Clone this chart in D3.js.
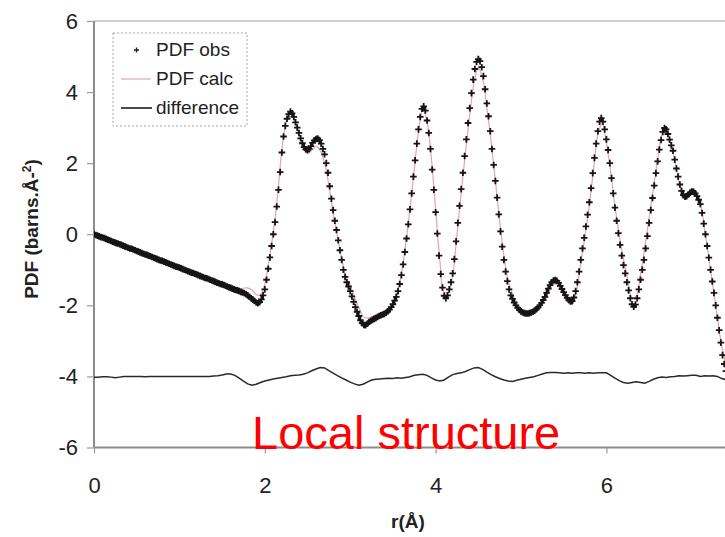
<!DOCTYPE html>
<html>
<head>
<meta charset="utf-8">
<script src="https://cdn.jsdelivr.net/npm/d3@7"></script>
<style>
  html, body { margin: 0; padding: 0; background: #fff; }
  svg { display: block; }
</style>
</head>
<body>
<script>
// Observed PDF, G(r), on a uniform r grid (0 to 7.40 Å, step 0.02 Å)
const obsStart = 0;
const obsStep = 0.02;
const pdfObs = [
  0.00,-0.02,-0.04,-0.06,-0.08,-0.09,-0.11,-0.13,-0.15,-0.17,
  -0.19,-0.21,-0.23,-0.25,-0.26,-0.28,-0.30,-0.32,-0.34,-0.36,
  -0.38,-0.40,-0.41,-0.43,-0.45,-0.47,-0.49,-0.51,-0.53,-0.55,
  -0.57,-0.58,-0.60,-0.62,-0.64,-0.66,-0.68,-0.70,-0.72,-0.74,
  -0.75,-0.77,-0.79,-0.81,-0.83,-0.85,-0.87,-0.89,-0.91,-0.92,
  -0.94,-0.96,-0.98,-1.00,-1.02,-1.04,-1.06,-1.08,-1.09,-1.11,
  -1.13,-1.15,-1.17,-1.19,-1.21,-1.23,-1.24,-1.26,-1.28,-1.30,
  -1.32,-1.34,-1.36,-1.38,-1.40,-1.41,-1.43,-1.45,-1.47,-1.49,
  -1.51,-1.53,-1.55,-1.57,-1.58,-1.60,-1.62,-1.64,-1.66,-1.69,
  -1.72,-1.76,-1.80,-1.84,-1.88,-1.92,-1.94,-1.91,-1.83,-1.72,
  -1.55,-1.28,-0.97,-0.65,-0.33,0.00,0.34,0.78,1.25,1.75,
  2.30,2.75,3.05,3.25,3.38,3.45,3.40,3.30,3.15,3.00,
  2.85,2.70,2.56,2.45,2.39,2.37,2.40,2.48,2.57,2.64,
  2.68,2.69,2.65,2.55,2.40,2.25,2.00,1.73,1.35,1.00,
  0.68,0.38,0.12,-0.17,-0.45,-0.72,-1.00,-1.20,-1.35,-1.47,
  -1.60,-1.75,-1.90,-2.05,-2.18,-2.30,-2.42,-2.50,-2.55,-2.56,
  -2.52,-2.47,-2.44,-2.41,-2.38,-2.36,-2.33,-2.30,-2.28,-2.26,
  -2.24,-2.21,-2.17,-2.12,-2.05,-1.97,-1.87,-1.76,-1.60,-1.40,
  -1.15,-0.85,-0.50,-0.12,0.28,0.70,1.15,1.62,2.08,2.55,
  2.95,3.30,3.53,3.60,3.48,3.20,2.85,2.40,1.82,1.25,
  0.62,0.02,-0.60,-1.12,-1.50,-1.73,-1.80,-1.72,-1.55,-1.35,
  -1.10,-0.70,-0.20,0.32,0.80,1.27,1.73,2.20,2.67,3.13,
  3.55,3.97,4.35,4.65,4.85,4.93,4.87,4.70,4.45,4.08,
  3.68,3.32,2.90,2.40,1.95,1.50,1.03,0.56,0.08,-0.35,
  -0.72,-1.05,-1.32,-1.55,-1.72,-1.82,-1.92,-2.00,-2.07,-2.13,
  -2.17,-2.20,-2.22,-2.23,-2.23,-2.22,-2.20,-2.18,-2.15,-2.11,
  -2.06,-2.00,-1.93,-1.85,-1.76,-1.65,-1.53,-1.43,-1.35,-1.30,
  -1.29,-1.31,-1.37,-1.45,-1.54,-1.63,-1.71,-1.79,-1.85,-1.89,
  -1.88,-1.78,-1.60,-1.35,-1.05,-0.72,-0.40,-0.10,0.22,0.55,
  0.90,1.30,1.72,2.15,2.55,2.90,3.17,3.27,3.17,2.95,
  2.67,2.37,2.00,1.58,1.15,0.75,0.38,0.03,-0.30,-0.60,
  -0.87,-1.10,-1.35,-1.58,-1.80,-1.97,-2.04,-1.98,-1.80,-1.55,
  -1.28,-1.00,-0.72,-0.40,-0.05,0.32,0.68,1.02,1.37,1.72,
  2.05,2.38,2.65,2.88,2.99,2.95,2.82,2.66,2.50,2.35,
  2.10,1.85,1.62,1.40,1.22,1.10,1.06,1.07,1.12,1.17,
  1.20,1.20,1.15,1.07,0.97,0.85,0.60,0.30,0.00,-0.33,
  -0.66,-1.00,-1.33,-1.65,-2.00,-2.35,-2.70,-3.05,-3.40,-3.65,
  -3.85
];

// Fitted PDF and the offset difference curve (0 to 7.40 Å, step 0.05 Å)
const fitStart = 0;
const fitStep = 0.05;
const pdfCalc = [
  0.00,-0.05,-0.09,-0.14,-0.19,-0.24,-0.28,-0.33,-0.38,-0.42,
  -0.47,-0.52,-0.57,-0.61,-0.66,-0.71,-0.75,-0.80,-0.85,-0.90,
  -0.94,-0.99,-1.04,-1.08,-1.13,-1.18,-1.23,-1.27,-1.32,-1.37,
  -1.45,-1.53,-1.58,-1.59,-1.55,-1.52,-1.51,-1.57,-1.70,-1.70,
  -1.42,-0.71,0.07,1.08,2.38,3.16,3.43,3.19,2.81,2.44,
  2.27,2.36,2.47,2.35,2.01,1.38,0.59,-0.05,-0.68,-1.18,
  -1.44,-1.77,-2.05,-2.31,-2.36,-2.33,-2.28,-2.22,-2.18,-2.10,
  -1.91,-1.63,-1.10,-0.28,0.71,1.82,2.90,3.51,3.17,2.15,
  0.72,-0.73,-1.63,-1.62,-1.15,-0.02,1.17,2.30,3.36,4.26,
  4.68,4.38,3.56,2.60,1.51,0.38,-0.62,-1.31,-1.68,-1.93,
  -2.09,-2.18,-2.19,-2.16,-2.09,-1.96,-1.75,-1.50,-1.40,-1.51,
  -1.73,-1.92,-1.98,-1.58,-0.82,-0.04,0.80,1.84,2.80,3.12,
  2.57,1.76,0.80,-0.02,-0.70,-1.28,-1.80,-1.74,-1.11,-0.37,
  0.46,1.28,2.09,2.79,2.98,2.59,2.10,1.49,1.09,1.07,
  1.17,1.08,0.85,0.13,-0.67,-1.51,-2.35,-3.14,-3.66
];
const difference = [
  -4.02,-4.02,-4.01,-4.01,-4.02,-4.04,-4.02,-4.00,-4.00,-4.00,
  -4.00,-4.00,-4.01,-4.00,-4.00,-4.00,-4.00,-4.00,-4.00,-4.00,
  -4.00,-4.00,-4.00,-4.00,-4.00,-4.00,-4.00,-4.00,-3.99,-3.98,
  -3.96,-3.93,-3.93,-3.97,-4.05,-4.13,-4.21,-4.25,-4.22,-4.17,
  -4.13,-4.10,-4.07,-4.05,-4.03,-4.01,-3.98,-3.97,-3.96,-3.94,
  -3.90,-3.84,-3.79,-3.75,-3.76,-3.84,-3.91,-3.98,-4.04,-4.10,
  -4.16,-4.21,-4.25,-4.22,-4.16,-4.10,-4.08,-4.07,-4.06,-4.05,
  -4.06,-4.04,-4.05,-4.03,-4.01,-3.97,-3.95,-3.94,-3.97,-4.04,
  -4.10,-4.13,-4.10,-4.02,-3.95,-3.92,-3.90,-3.86,-3.81,-3.76,
  -3.75,-3.80,-3.88,-3.95,-4.01,-4.06,-4.10,-4.13,-4.14,-4.11,
  -4.08,-4.05,-4.03,-4.01,-3.97,-3.93,-3.90,-3.89,-3.89,-3.90,
  -3.91,-3.90,-3.91,-3.90,-3.90,-3.91,-3.90,-3.91,-3.90,-3.90,
  -3.90,-3.97,-4.05,-4.12,-4.17,-4.19,-4.17,-4.15,-4.17,-4.19,
  -4.14,-4.08,-4.04,-4.02,-4.03,-4.01,-4.00,-3.98,-3.99,-3.98,
  -3.97,-3.97,-4.00,-3.98,-3.99,-3.98,-4.00,-4.06,-4.09
];

const xTicks = [0, 2, 4, 6];
const yTicks = [-6, -4, -2, 0, 2, 4, 6];
const legendLabels = ["PDF obs", "PDF calc", "difference"];
const xTitle = "r(Å)";
const annotation = "Local structure";

const W = 725, H = 537;
const font = "'Liberation Sans', Arial, sans-serif";

const x = d3.scaleLinear().domain([0, 8]).range([94, 777.2]);
const y = d3.scaleLinear().domain([-6, 6]).range([447.5, 21]);

const svg = d3.select("body").append("svg")
  .attr("width", W).attr("height", H)
  .style("font-family", font);

svg.append("defs").append("clipPath").attr("id", "plot-clip")
  .append("rect").attr("x", 94).attr("y", 0).attr("width", W - 94).attr("height", 450);

// top border of the plot area
svg.append("line")
  .attr("x1", 94).attr("x2", W)
  .attr("y1", y(6)).attr("y2", y(6))
  .attr("stroke", "#cfcfcf").attr("stroke-width", 2);

// axes
const yAxis = svg.append("g")
  .attr("transform", `translate(${x(0)},0)`)
  .call(d3.axisLeft(y).tickValues(yTicks).tickSize(7).tickPadding(9)
    .tickFormat(d => String(d)));
const xAxis = svg.append("g")
  .attr("transform", `translate(0,${y(-6)})`)
  .call(d3.axisBottom(x).tickValues(xTicks).tickSize(6).tickPadding(24)
    .tickFormat(d => String(d)));

[yAxis, xAxis].forEach(g => {
  g.select(".domain").attr("stroke", "#8c8c8c").attr("stroke-width", 2);
  g.selectAll(".tick line").attr("stroke", "#9a9a9a").attr("stroke-width", 1.2);
  g.selectAll(".tick text")
    .attr("fill", "#222").style("font-size", "22px").style("font-family", font);
});
xAxis.select(".domain").attr("d", `M${x(0)},0H${W}`);
yAxis.select(".domain").attr("d", `M0,${y(6)}V${y(-6)}`);

const plot = svg.append("g").attr("clip-path", "url(#plot-clip)");

// fitted curve
const calcPts = pdfCalc.map((v, i) => [fitStart + i * fitStep, v]);
plot.append("path")
  .datum(calcPts)
  .attr("fill", "none")
  .attr("stroke", "#e8a3ad")
  .attr("stroke-width", 1.2)
  .attr("d", d3.line().x(d => x(d[0])).y(d => y(d[1])).curve(d3.curveCatmullRom));

// observed points as "+" markers
const obsPts = pdfObs.map((v, i) => [obsStart + i * obsStep, v]);
const arm = 3.3;
plot.append("path")
  .attr("fill", "none")
  .attr("stroke", "#151515")
  .attr("stroke-width", 1.8)
  .attr("d", obsPts.map(d => {
    const px = x(d[0]), py = y(d[1]);
    return `M${px - arm},${py}h${2 * arm}M${px},${py - arm}v${2 * arm}`;
  }).join(""));

// difference curve
const diffPts = difference.map((v, i) => [fitStart + i * fitStep, v]);
plot.append("path")
  .datum(diffPts)
  .attr("fill", "none")
  .attr("stroke", "#2a2a2a")
  .attr("stroke-width", 1.5)
  .attr("d", d3.line().x(d => x(d[0])).y(d => y(d[1])));

// axis titles
svg.append("text")
  .attr("x", 408).attr("y", 528)
  .attr("text-anchor", "middle")
  .style("font-size", "19px").style("font-weight", "bold")
  .attr("fill", "#222")
  .text(xTitle);

const yTitle = svg.append("text")
  .attr("transform", "translate(38,229) rotate(-90)")
  .attr("text-anchor", "middle")
  .style("font-size", "19px").style("font-weight", "bold")
  .attr("fill", "#222");
yTitle.append("tspan").text("PDF (barns.Å-");
yTitle.append("tspan").attr("dy", -7).style("font-size", "12px").text("2");
yTitle.append("tspan").attr("dy", 7).text(")");

// legend
const lg = svg.append("g");
lg.append("rect")
  .attr("x", 113).attr("y", 33).attr("width", 134).attr("height", 93)
  .attr("fill", "#fff").attr("stroke", "#a8a8a8").attr("stroke-width", 1)
  .attr("stroke-dasharray", "2,2");
const rows = [56, 85, 114];
legendLabels.forEach((t, i) => {
  lg.append("text")
    .attr("x", 156).attr("y", rows[i])
    .style("font-size", "19px").attr("fill", "#222")
    .text(t);
});
lg.append("path")
  .attr("d", `M${136.5 - 2.5},${50}h${5}M${136.5},${50 - 2.5}v${5}`)
  .attr("stroke", "#1e1e1e").attr("stroke-width", 1.4);
lg.append("line")
  .attr("x1", 121).attr("x2", 151).attr("y1", 79).attr("y2", 79)
  .attr("stroke", "#e8a3ad").attr("stroke-width", 1.2);
lg.append("line")
  .attr("x1", 121).attr("x2", 152).attr("y1", 108).attr("y2", 108)
  .attr("stroke", "#1e1e1e").attr("stroke-width", 1.6);

// annotation
svg.append("text")
  .attr("x", 252).attr("y", 449)
  .style("font-size", "47px")
  .attr("fill", "#ff0000")
  .text(annotation);
</script>
</body>
</html>
